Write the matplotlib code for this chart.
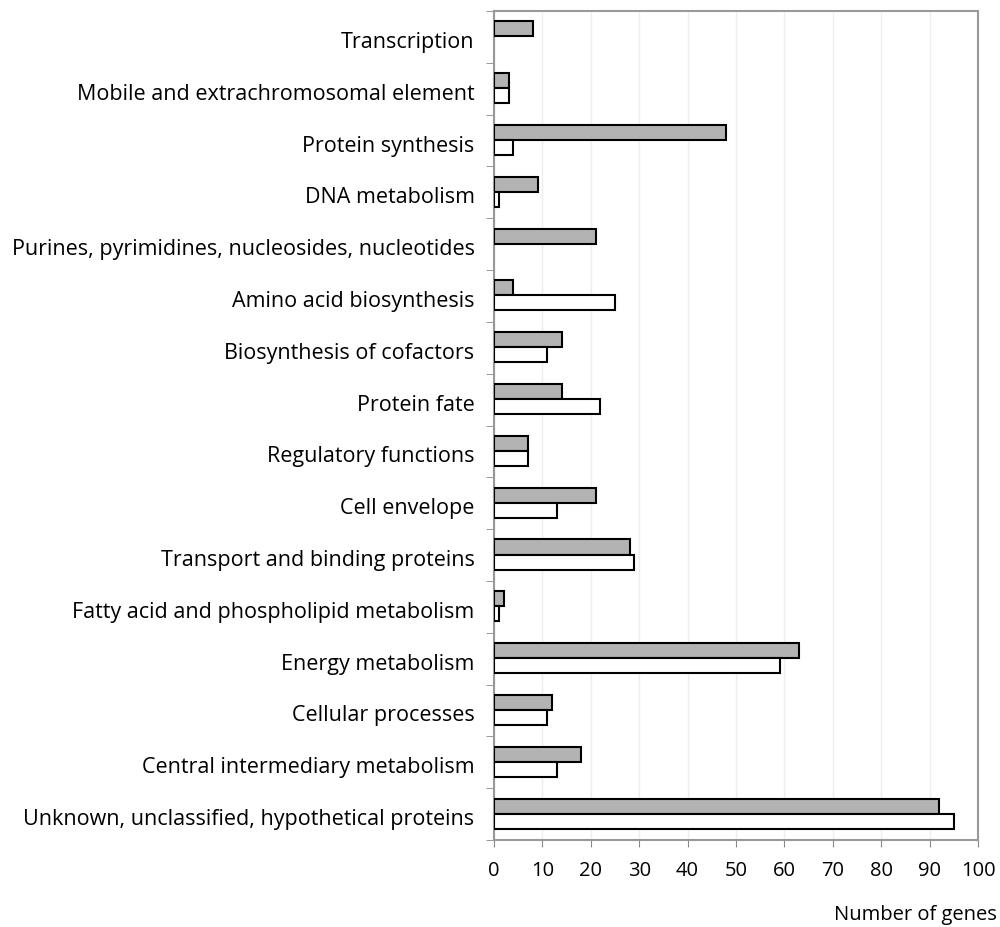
import numpy as np
import matplotlib.pyplot as plt
import matplotlib.transforms as mtransforms

# categories from bottom to top
categories = [
    "Unknown, unclassified, hypothetical proteins",
    "Central intermediary metabolism",
    "Cellular processes",
    "Energy metabolism",
    "Fatty acid and phospholipid metabolism",
    "Transport and binding proteins",
    "Cell envelope",
    "Regulatory functions",
    "Protein fate",
    "Biosynthesis of cofactors",
    "Amino acid biosynthesis",
    "Purines, pyrimidines, nucleosides, nucleotides",
    "DNA metabolism",
    "Protein synthesis",
    "Mobile and extrachromosomal element",
    "Transcription",
]
gray_vals = [92, 18, 12, 63, 2, 28, 21, 7, 14, 14, 4, 21, 9, 48, 3, 8]
white_vals = [95, 13, 11, 59, 1, 29, 13, 7, 22, 11, 25, 0, 1, 4, 3, 0]
x_ticks = list(range(0, 101, 10))

plt.rcParams['font.family'] = ['Open Sans', 'DejaVu Sans']

fig = plt.figure(figsize=(10, 9.27), dpi=100)
ax = fig.add_axes([0.494, 1 - 840 / 927, 0.484, (840 - 11) / 927])

y = np.arange(len(categories))
h = 0.29
ax.barh(y + h / 2 + 0.01, gray_vals, height=h, color='#b3b3b3', edgecolor='black',
        linewidth=[1.5 if v else 0 for v in gray_vals], zorder=3)
ax.barh(y - h / 2 + 0.01, white_vals, height=h, color='white', edgecolor='black',
        linewidth=[1.5 if v else 0 for v in white_vals], zorder=3)

ax.set_xlim(0, 100)
ax.set_ylim(-0.5, len(categories) - 0.5)
ax.set_xticks(x_ticks)
ax.tick_params(axis='x', labelsize=14.5, length=5, color='#888888', pad=10)
ax.set_yticks(y)
ax.set_yticklabels(categories, fontsize=15.5)
ax.tick_params(axis='y', length=0, pad=14)
# nudge the category labels down a touch
offset = mtransforms.ScaledTranslation(0, -3 / 100, fig.dpi_scale_trans)
for lab in ax.get_yticklabels():
    lab.set_transform(lab.get_transform() + offset)
ax.set_yticks(np.arange(-0.5, len(categories)), minor=True)
ax.tick_params(axis='y', which='minor', length=6, color='#888888')
ax.grid(axis='x', color='#eeeeee', linewidth=1, zorder=0)
for s in ax.spines.values():
    s.set_color('#999999')
    s.set_linewidth(1.5)

fig.text(0.997, 1 - 915 / 927, "Number of genes", ha='right', va='center', fontsize=14.5)

fig.savefig("out.png", dpi=100)
